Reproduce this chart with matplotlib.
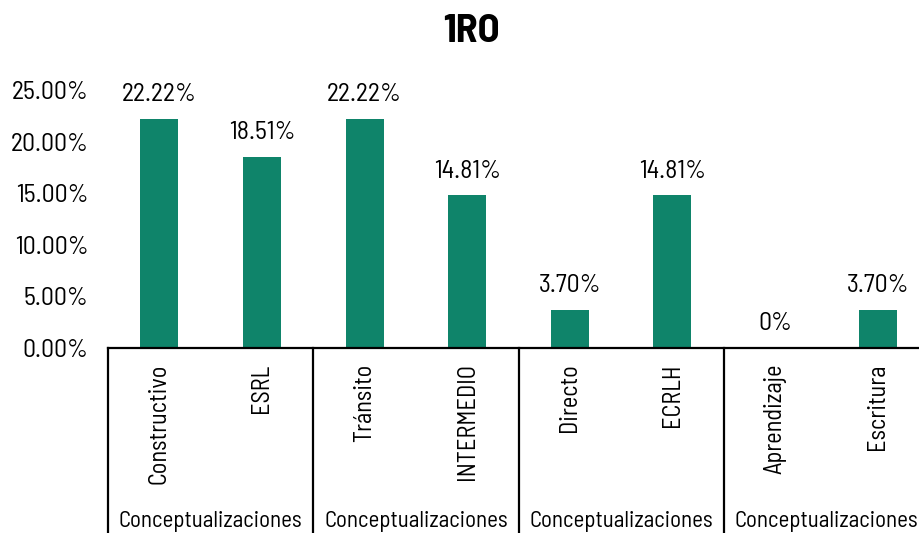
import matplotlib
matplotlib.use("Agg")
import matplotlib.pyplot as plt
import matplotlib.transforms as mtransforms

categories = ["Constructivo", "ESRL", "Tránsito", "INTERMEDIO",
              "Directo", "ECRLH", "Aprendizaje", "Escritura"]
values = [22.22, 18.51, 22.22, 14.81, 3.70, 14.81, 0.0, 3.70]
value_labels = ["22.22%", "18.51%", "22.22%", "14.81%", "3.70%", "14.81%", "0%", "3.70%"]
groups = ["Conceptualizaciones"] * 4
yticks = [0, 5, 10, 15, 20, 25]
ytick_labels = ["0.00%", "5.00%", "10.00%", "15.00%", "20.00%", "25.00%"]

plt.rcParams['font.family'] = ['Barlow Semi Condensed', 'Liberation Sans Narrow', 'DejaVu Sans']

W, H = 920, 533
fig = plt.figure(figsize=(W / 100, H / 100), dpi=100)
# axes spans past the right edge, like the reference (clipped)
x0, x1, y0, ytop = 108, 929, 348, 90
ax = fig.add_axes([x0 / W, (H - y0) / H, (x1 - x0) / W, (y0 - ytop) / H])

xs = list(range(len(categories)))
ax.bar(xs, values, width=0.37, color="#0F846A")
ax.set_xlim(-0.5, len(categories) - 0.5)
ax.set_ylim(0, 25)

for x, v, lab in zip(xs, values, value_labels):
    ax.annotate(lab, (x, v), xytext=(0, 9), textcoords="offset points",
                ha="center", va="bottom", fontsize=18.5)

ax.set_yticks(yticks)
ax.set_yticklabels(ytick_labels, fontsize=18.5)
ax.tick_params(axis="y", length=0, pad=14)
ax.set_xticks(xs)
ax.set_xticklabels(categories, rotation=90, fontsize=17.5)
ax.tick_params(axis="x", length=0, pad=11)

for s in ["top", "right", "left"]:
    ax.spines[s].set_visible(False)
ax.spines["bottom"].set_linewidth(1.6)
ax.spines["bottom"].set_color("black")

trans = mtransforms.blended_transform_factory(ax.transData, ax.transAxes)
for g in range(len(groups) + 1):
    xb = g * 2 - 0.5
    ax.plot([xb, xb], [0, -0.75], color="black", lw=1.6, transform=trans,
            clip_on=False)
for g, name in enumerate(groups):
    ax.text(g * 2 + 0.5, -0.674, name, transform=trans, ha="center",
            va="center", fontsize=16.5)

fig.text(471 / W, 1 - 31 / H, "1RO", ha="center", va="center",
         fontsize=29, fontweight="bold")

fig.savefig("out.png", dpi=100)
